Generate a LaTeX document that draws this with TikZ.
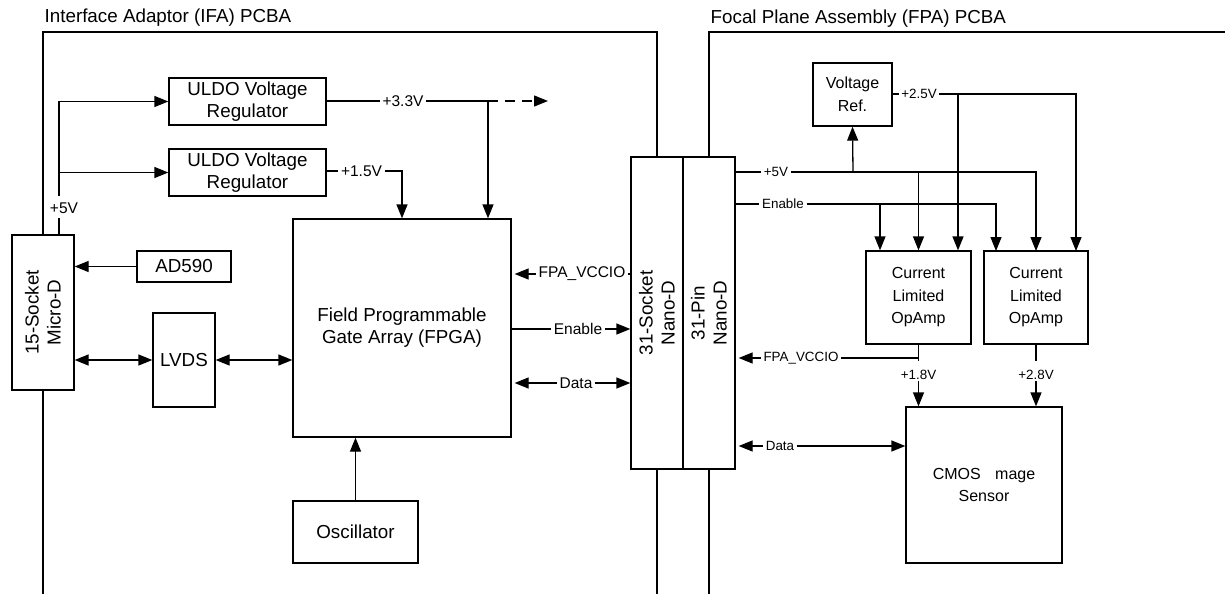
\documentclass[tikz,border=0pt]{standalone}
\usepackage{fontspec}
\setmainfont{Liberation Sans}
\usetikzlibrary{arrows.meta}
\begin{document}
\begin{tikzpicture}[x=1pt,y=-1pt,line width=1.3pt,
  blk/.style={draw,line width=1.3pt,inner sep=0pt,align=center,font=\fontsize{18.8}{22}\selectfont},
  sblk/.style={blk,font=\fontsize{16}{22.5}\selectfont},
  rtxt/.style={rotate=90,align=center,inner sep=0pt,font=\fontsize{18.8}{22}\selectfont},
  lbl/.style={inner sep=2pt,font=\fontsize{15.5}{17}\selectfont},
  rlbl/.style={inner sep=2pt,font=\fontsize{13.4}{15}\selectfont},
  ttl/.style={inner sep=0pt,anchor=west,font=\fontsize{18.8}{20}\selectfont},
  arr/.style={-{Triangle[length=14pt,width=11pt]}},
  darr/.style={{Triangle[length=14pt,width=11pt]}-{Triangle[length=14pt,width=11pt]}}]
\useasboundingbox (0,0) rectangle (1225,594);

% titles
\node[ttl] (t1) at (44,18) {Interface Adaptor (IFA) PCBA};
\node[ttl] (t2) at (710,19) {Focal Plane Assembly (FPA) PCBA};

% blocks (left)
\node[blk,minimum width=157pt,minimum height=47pt] (uldo1) at (247.5,101.5) {ULDO Voltage\\Regulator};
\node[blk,minimum width=157pt,minimum height=47pt] (uldo2) at (247.5,172.5) {ULDO Voltage\\Regulator};
\node[blk,minimum width=62pt,minimum height=155pt] (microd) at (43,312.5) {};
\node[rtxt] (microdt) at (microd.center) {15-Socket\\Micro-D};
\node[blk,minimum width=94pt,minimum height=31pt] (ad590) at (184,266.5) {AD590};
\node[blk,minimum width=62pt,minimum height=94pt] (lvds) at (184,360) {LVDS};
\node[blk,minimum width=218pt,minimum height=218pt] (fpga) at (402,328) {Field Programmable\\Gate Array (FPGA)};
\node[blk,minimum width=125pt,minimum height=62pt] (osc) at (355.5,532) {Oscillator};

% connectors
\node[blk,minimum width=52pt,minimum height=312pt] (sock) at (657,313) {};
\node[rtxt] (sockt) at (sock.center) {31-Socket\\Nano-D};
\node[blk,minimum width=52pt,minimum height=312pt] (pin) at (709,313) {};
\node[rtxt] (pint) at (pin.center) {31-Pin\\Nano-D};

% blocks (right)
\node[sblk,minimum width=79pt,minimum height=63pt] (vref) at (852.5,94.5) {Voltage\\Ref.};
\node[sblk,minimum width=105pt,minimum height=93pt] (op1) at (918.5,297.5) {Current\\Limited\\OpAmp};
\node[sblk,minimum width=104pt,minimum height=93pt] (op2) at (1036,297.5) {Current\\Limited\\OpAmp};
\node[sblk,minimum width=156pt,minimum height=156pt] (cmos) at (984,485) {CMOS\hspace{0.9em}mage\\Sensor};

% board outlines
\draw (microd.south) -- (43,594);
\draw (microd.north) -- (43,32) -- (657,32) -- (sock.north);
\draw (sock.south) -- (657,594);
\draw (pin.north) -- (709,32) -- (1225,32);
\draw (pin.south) -- (709,594);

% +5V feed (left)
\coordinate (p5a) at (59,235);
\node[lbl] (l5) at (64,208) {+5V};
\coordinate (p5b) at (59,196);
\coordinate (p5j) at (59,172.5);
\draw (p5a) -- (59,218);
\draw[arr] (p5b) |- (uldo1.west);
\draw[arr] (p5j) -- (uldo2.west);

% AD590, LVDS
\draw[arr] (ad590.west) -- (ad590.west -| microd.east);
\draw[darr] (lvds.west -| microd.east) -- (lvds.west);
\draw[darr] (lvds.east) -- (lvds.east -| fpga.west);

% +3.3V
\node[lbl] (l33) at (403,101) {+3.3V};
\coordinate (j33) at (488,101);
\coordinate (e33) at (548,101);
\draw (uldo1.east |- l33) -- (l33.west);
\draw (l33.east) -- (j33);
\draw[arr,dash pattern=on 10pt off 7pt] (j33) -- (e33);
\draw[arr] (j33) -- (j33 |- fpga.north);

% +1.5V
\node[lbl] (l15) at (361.5,171) {+1.5V};
\draw (uldo2.east |- l15) -- (l15.west);
\draw[arr] (l15.east) -| (fpga.north);

% FPGA <-> socket
\node[lbl] (lv1) at (582,274) {FPA\_VCCIO};
\draw[arr,shorten >=3pt] (lv1.west) -- (lv1.west -| fpga.east);
\draw (lv1.east) -- (lv1.east -| sock.west);
\node[lbl] (le1) at (578,329) {Enable};
\draw (le1.west -| fpga.east) -- (le1.west);
\draw[arr] (le1.east) -- (le1.east -| sock.west);
\node[lbl] (ld1) at (576,383) {Data};
\draw[arr,shorten >=3pt] (ld1.west) -- (ld1.west -| fpga.east);
\draw[arr] (ld1.east) -- (ld1.east -| sock.west);

% oscillator
\draw[arr] (osc.north) -- (osc.north |- fpga.south);

% right side: +5V
\node[rlbl] (r5) at (776,172) {+5V};
\draw (r5.west -| pin.east) -- (r5.west);
\draw[arr] (r5.east) -- (1036,172) -- (1036,251);
\coordinate (r5a) at (853,172);
\coordinate (r5b) at (918.5,172);
\draw[arr] (r5a) -- (vref.south);
\draw[arr] (r5b) -- (r5b |- op1.north);

% Enable
\node[rlbl] (re) at (783,204) {Enable};
\draw (re.west -| pin.east) -- (re.west);
\draw[arr] (re.east) -- (996,204) -- (996,251);
\coordinate (rea) at (880,204);
\draw[arr] (rea) -- (rea |- op1.north);

% +2.5V
\node[rlbl] (r25) at (919,94) {+2.5V};
\draw (vref.east |- r25) -- (r25.west);
\draw[arr] (r25.east) -- (1076,94) -- (1076,251);
\coordinate (r25a) at (958,94);
\draw[arr] (r25a) -- (r25a |- op1.north);

% OpAmp outputs
\node[rlbl,inner sep=1pt] (l18) at (918.5,375) {+1.8V};
\node[rlbl,inner sep=1pt] (l28) at (1036,375) {+2.8V};
\draw (op1.south) -- (918.5,361);
\draw[arr] (l18.south) -- (l18.south |- cmos.north);
\draw (op2.south) -- (1036,361);
\draw[arr] (l28.south) -- (l28.south |- cmos.north);
\node[rlbl] (rv) at (801,358) {FPA\_VCCIO};
\coordinate (jv) at (918.5,358);
\draw (jv) -- (rv.east);
\draw[arr,shorten >=3pt] (rv.west) -- (rv.west -| pin.east);

% Data right
\node[rlbl] (rd) at (780,446) {Data};
\draw[arr,shorten >=3pt] (rd.west) -- (rd.west -| pin.east);
\draw[arr] (rd.east) -- (rd.east -| cmos.west);
\end{tikzpicture}
\end{document}
